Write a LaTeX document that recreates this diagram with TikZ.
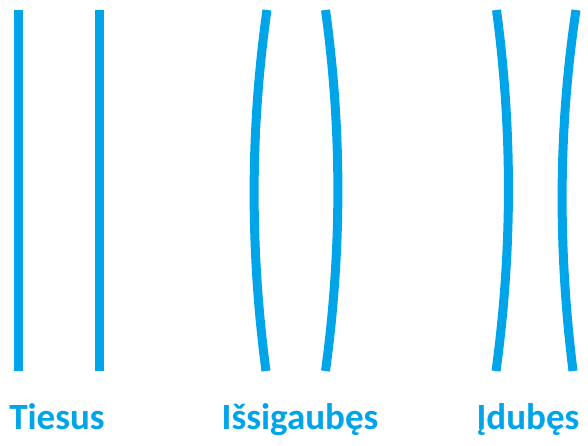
\documentclass[tikz,border=0pt]{standalone}
\usepackage{fontspec}
\setmainfont{Carlito}
\definecolor{lineblue}{RGB}{0,164,232}
\begin{document}
\begin{tikzpicture}[x=1pt,y=-1pt,
  wall/.style={draw=lineblue,line width=9pt,line cap=butt},
  caption/.style={text=lineblue,font=\fontsize{37}{44}\selectfont\bfseries,anchor=base,inner sep=0pt}]
\useasboundingbox (0,0) rectangle (588,446);
% straight
\draw[wall] (18,10) -- (18,371);
\draw[wall] (99.5,10) -- (99.5,371);
% convex
\draw[wall] (267,10) .. controls (250,130) and (250,250) .. (266,371);
\draw[wall] (325.5,10) .. controls (342,130) and (342,250) .. (325.5,371);
% concave
\draw[wall] (496.5,10) .. controls (512.5,130) and (512.5,250) .. (496,371);
\draw[wall] (576,10) .. controls (558,130) and (558,250) .. (573,371);
% captions
\node[caption] (t1) at (57,429) {Tiesus};
\node[caption] (t2) at (300,429) {Išsigaubęs};
\node[caption] (t3) at (528,429) {Įdubęs};
\end{tikzpicture}
\end{document}
